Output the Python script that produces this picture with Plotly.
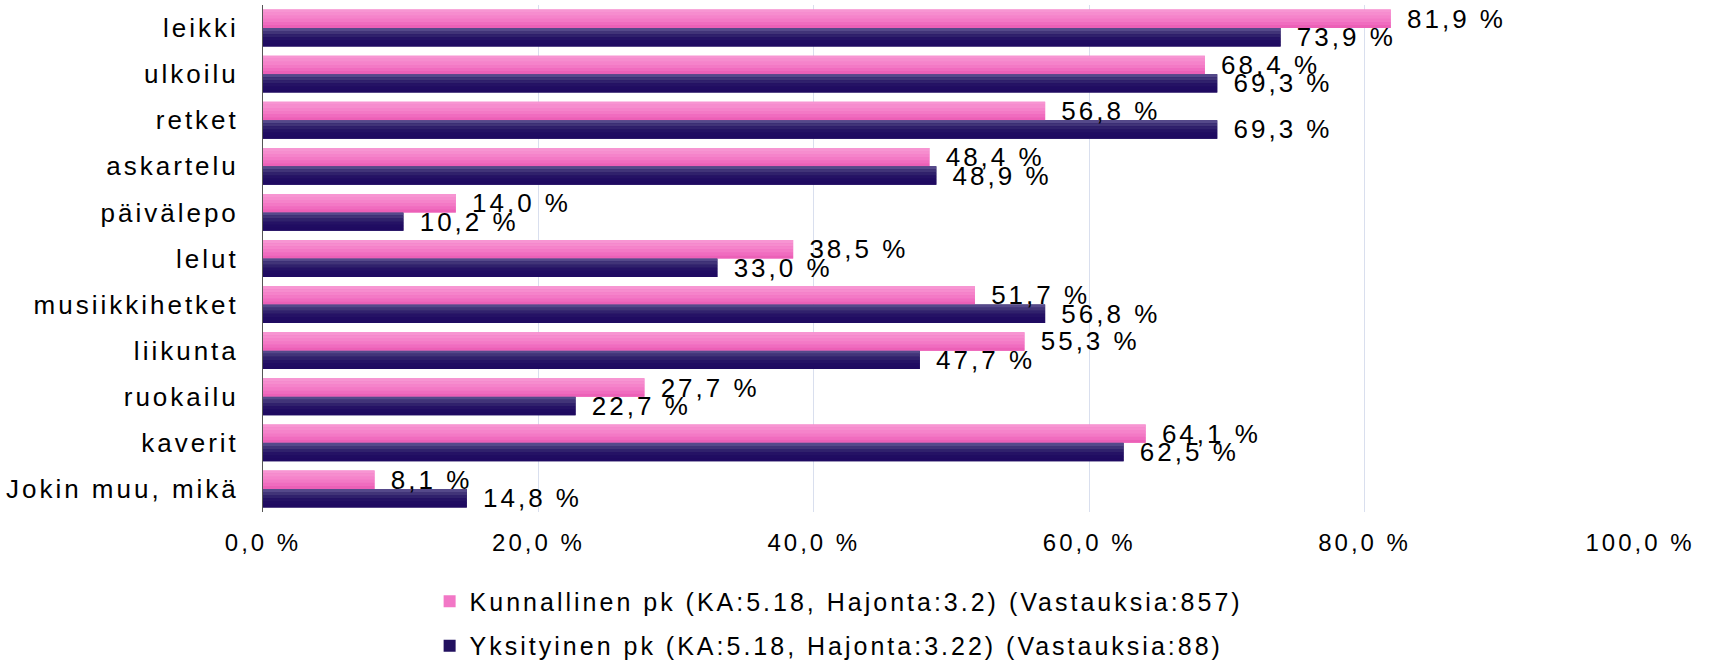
import plotly.graph_objects as go

categories = ["leikki", "ulkoilu", "retket", "askartelu", "päivälepo", "lelut",
              "musiikkihetket", "liikunta", "ruokailu", "kaverit", "Jokin muu, mikä"]
kunnallinen = [81.9, 68.4, 56.8, 48.4, 14.0, 38.5, 51.7, 55.3, 27.7, 64.1, 8.1]
yksityinen = [73.9, 69.3, 69.3, 48.9, 10.2, 33.0, 56.8, 47.7, 22.7, 62.5, 14.8]
series_names = ["Kunnallinen pk (KA:5.18, Hajonta:3.2) (Vastauksia:857)",
                "Yksityinen pk (KA:5.18, Hajonta:3.22) (Vastauksia:88)"]
x_tick_vals = [0, 20, 40, 60, 80, 100]

FONT = "Liberation Sans, Arial, sans-serif"
LS = 3


def spaced(s, ls=LS):
    return f'<span style="letter-spacing:{ls}px">{s}</span>'


def pct(v):
    return f"{v:.1f}".replace(".", ",") + " %"


x_tick_text = [spaced(pct(v)) for v in x_tick_vals]

pink_base = "#F277C6"
dark_base = "#22105F"
pink_bands = ["#F795D2", "#F68DCE", "#F583CA", "#F379C5", "#F06CBF", "#EC60B7"]
dark_bands = ["#55498A", "#413478", "#30216C", "#251265", "#200C62", "#1F0A61"]

BAR_W = 0.4
fig = go.Figure()

series = [
    (series_names[0], kunnallinen, pink_base, pink_bands, -BAR_W, "g1"),
    (series_names[1], yksityinen, dark_base, dark_bands, 0.0, "g2"),
]

# base bars (legend)
for name, vals, base, bands, off, grp in series:
    fig.add_trace(go.Bar(
        y=categories, x=vals, orientation="h", name=spaced(name),
        marker=dict(color=base, line=dict(width=0)),
        width=BAR_W, offset=off, legendgroup=grp, hoverinfo="skip",
    ))

# gradient bands
for name, vals, base, bands, off, grp in series:
    n = len(bands)
    for k, col in enumerate(bands):
        fig.add_trace(go.Bar(
            y=categories, x=vals, orientation="h",
            marker=dict(color=col, line=dict(width=0)),
            width=BAR_W / n, offset=off + k * BAR_W / n,
            legendgroup=grp, showlegend=False, hoverinfo="skip",
        ))

# value labels on top
for name, vals, base, bands, off, grp in series:
    fig.add_trace(go.Bar(
        y=categories, x=vals, orientation="h",
        marker=dict(color="rgba(0,0,0,0)", line=dict(width=0)),
        width=BAR_W, offset=off, legendgroup=grp, showlegend=False,
        text=[spaced("\u00a0", 6) + spaced(pct(v)) for v in vals],
        textposition="outside", constraintext="none", cliponaxis=False,
        textfont=dict(family=FONT, size=26, color="#000000"),
        hovertemplate="%{y}: %{x:.1f} %<extra></extra>",
    ))

fig.update_layout(
    width=1713, height=661,
    barmode="overlay",
    paper_bgcolor="white", plot_bgcolor="white",
    margin=dict(l=263, r=73, t=5, b=149, autoexpand=False),
    font=dict(family=FONT, size=24, color="#000000"),
    showlegend=True,
    legend=dict(
        orientation="v", xref="container", yref="container",
        x=0.2508, xanchor="left", y=0.1250, yanchor="top",
        font=dict(family=FONT, size=25, color="#000000"),
        tracegroupgap=9, bgcolor="rgba(0,0,0,0)",
    ),
    xaxis=dict(
        range=[0, 100], tickvals=x_tick_vals, ticktext=x_tick_text,
        showgrid=True, gridcolor="#D9DFEE", gridwidth=1,
        zeroline=False, showline=False, ticks="",
        ticklabelstandoff=14, automargin=False,
        tickfont=dict(family=FONT, size=24, color="#000000"),
    ),
    yaxis=dict(
        autorange=False, range=[len(categories) - 0.5, -0.5], type="category",
        tickvals=categories, ticktext=[spaced(c) for c in categories],
        showgrid=False, zeroline=False, showline=True,
        linecolor="#555555", linewidth=1, ticks="",
        ticklabelstandoff=18, automargin=False,
        tickfont=dict(family=FONT, size=26, color="#000000"),
    ),
)

fig.write_html("out.html",
               config={"displayModeBar": False},
               post_script="document.body.style.margin='0';document.body.style.overflow='hidden';")
